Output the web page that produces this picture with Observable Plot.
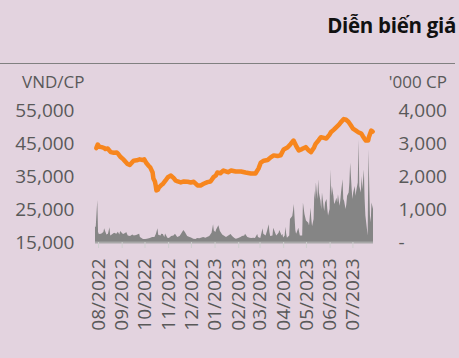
<!DOCTYPE html>
<html>
<head>
<meta charset="utf-8">
<script src="https://cdn.jsdelivr.net/npm/d3@7"></script>
<script src="https://cdn.jsdelivr.net/npm/@observablehq/plot@0.6"></script>
<style>
  html, body { margin: 0; padding: 0; background: #e3d3df; }
  body { width: 459px; height: 358px; overflow: hidden; font-family: "Open Sans", sans-serif; }
  #header { position: relative; width: 459px; height: 95px; }
  #title { position: absolute; right: 3px; top: 11px; font-family: "Open Sans", sans-serif; font-weight: 700; font-size: 20.5px; color: #111; white-space: nowrap; letter-spacing: -0.3px; }
  #rule { position: absolute; left: 0; top: 63px; width: 455px; height: 1px; background: #808080; }
  .unit { position: absolute; top: 70px; font-size: 17px; color: #595959; }
  #unitL { left: 22px; }
  #unitR { right: 12px; }
  #chart svg { display: block; }
</style>
</head>
<body>
<div id="header">
  <div id="title">Diễn biến giá</div>
  <div id="rule"></div>
  <div class="unit" id="unitL">VND/CP</div>
  <div class="unit" id="unitR">'000 CP</div>
</div>
<div id="chart"></div>
<script>
// Price (VND/CP)
const priceDates = ["2022-07-29","2022-07-31","2022-08-02","2022-08-05","2022-08-08","2022-08-10","2022-08-13","2022-08-17","2022-08-21","2022-08-25","2022-08-27","2022-08-30",
"2022-09-03","2022-09-06","2022-09-08","2022-09-11","2022-09-13","2022-09-16","2022-09-20","2022-09-24","2022-09-28","2022-09-30",
"2022-10-03","2022-10-06","2022-10-08","2022-10-11","2022-10-12","2022-10-14","2022-10-15","2022-10-16","2022-10-18","2022-10-19","2022-10-22","2022-10-25","2022-10-28","2022-10-31",
"2022-11-04","2022-11-08","2022-11-10","2022-11-13","2022-11-17","2022-11-21","2022-11-26","2022-11-30",
"2022-12-04","2022-12-09","2022-12-13","2022-12-17","2022-12-22","2022-12-26","2022-12-30",
"2023-01-02","2023-01-04","2023-01-08","2023-01-12","2023-01-18","2023-01-22","2023-01-28",
"2023-02-04","2023-02-10","2023-02-17","2023-02-23","2023-02-27",
"2023-03-02","2023-03-06","2023-03-11","2023-03-15","2023-03-19","2023-03-24","2023-03-28",
"2023-04-01","2023-04-06","2023-04-10","2023-04-14","2023-04-18","2023-04-21","2023-04-25","2023-04-30",
"2023-05-04","2023-05-07","2023-05-11","2023-05-13","2023-05-17","2023-05-20","2023-05-24","2023-05-27","2023-05-31",
"2023-06-02","2023-06-06","2023-06-09","2023-06-13","2023-06-15","2023-06-19","2023-06-22","2023-06-25","2023-06-28",
"2023-07-01","2023-07-05","2023-07-08","2023-07-12","2023-07-14","2023-07-16","2023-07-18","2023-07-21","2023-07-22","2023-07-25","2023-07-27"];
const priceValues = [43600,44700,44000,43900,43700,43300,43500,42400,42200,42300,41800,40900,
40100,39300,38800,38500,39000,39800,39900,40200,40000,40200,
39000,38200,37700,36200,34400,33500,32300,30800,31000,31600,32300,32900,33800,34800,
35300,34400,33800,33500,33200,33500,33400,33200,
33400,32300,32300,32800,33300,33500,34800,
35300,36200,36000,36800,36300,36800,36500,
36500,36200,35900,35900,37400,
39200,39800,40000,40800,41400,41200,41400,
43200,43800,44800,45900,44000,42900,43300,43900,
42900,42400,43800,44900,46000,46900,46700,46500,47600,
48400,49200,49900,50800,51400,52400,52200,51600,50600,
49500,48900,48400,48000,47200,46500,45900,45900,47000,48900,48600];

// Volume ('000 CP)
const volumeDates = ["2022-07-28","2022-07-29","2022-07-31","2022-08-01","2022-08-02","2022-08-05","2022-08-08","2022-08-09","2022-08-10","2022-08-12","2022-08-14","2022-08-16","2022-08-17","2022-08-19","2022-08-22","2022-08-25","2022-08-27","2022-08-29","2022-08-30",
"2022-09-02","2022-09-03","2022-09-06","2022-09-07","2022-09-09","2022-09-12","2022-09-15","2022-09-17","2022-09-20","2022-09-23","2022-09-24","2022-09-25","2022-09-27","2022-09-29",
"2022-10-02","2022-10-04","2022-10-08","2022-10-11","2022-10-14","2022-10-16","2022-10-18","2022-10-19","2022-10-22","2022-10-23","2022-10-25","2022-10-27","2022-10-28","2022-10-31",
"2022-11-02","2022-11-05","2022-11-08","2022-11-10","2022-11-13","2022-11-16","2022-11-18","2022-11-21","2022-11-23","2022-11-26","2022-11-29",
"2022-12-01","2022-12-04","2022-12-07","2022-12-09","2022-12-12","2022-12-14","2022-12-17","2022-12-20","2022-12-22","2022-12-25","2022-12-28","2022-12-30","2022-12-31",
"2023-01-02","2023-01-03","2023-01-06","2023-01-08","2023-01-11","2023-01-14","2023-01-16","2023-01-19","2023-01-22","2023-01-24","2023-01-27","2023-01-29",
"2023-02-01","2023-02-04","2023-02-06","2023-02-09","2023-02-10","2023-02-13","2023-02-16","2023-02-18","2023-02-21","2023-02-23","2023-02-26","2023-02-27",
"2023-03-02","2023-03-05","2023-03-06","2023-03-09","2023-03-11","2023-03-13","2023-03-14","2023-03-15","2023-03-18","2023-03-19","2023-03-22","2023-03-23","2023-03-26","2023-03-27","2023-03-30","2023-03-31",
"2023-04-01","2023-04-03","2023-04-04","2023-04-05","2023-04-06","2023-04-09","2023-04-10","2023-04-13","2023-04-14","2023-04-15","2023-04-17","2023-04-18","2023-04-19","2023-04-21","2023-04-22","2023-04-23","2023-04-26","2023-04-27","2023-04-29",
"2023-05-01","2023-05-04","2023-05-05","2023-05-07","2023-05-08","2023-05-09","2023-05-11","2023-05-12","2023-05-13","2023-05-14","2023-05-16","2023-05-17","2023-05-18","2023-05-20","2023-05-21","2023-05-22","2023-05-24","2023-05-25","2023-05-26","2023-05-28","2023-05-29","2023-05-30",
"2023-06-01","2023-06-02","2023-06-03","2023-06-04","2023-06-06","2023-06-07","2023-06-08","2023-06-10","2023-06-11","2023-06-12","2023-06-14","2023-06-15","2023-06-16","2023-06-18","2023-06-19","2023-06-20","2023-06-22","2023-06-23","2023-06-24","2023-06-26","2023-06-27","2023-06-28","2023-06-30",
"2023-07-01","2023-07-02","2023-07-04","2023-07-05","2023-07-06","2023-07-08","2023-07-09","2023-07-10","2023-07-12","2023-07-13","2023-07-14","2023-07-16","2023-07-17","2023-07-18","2023-07-20","2023-07-21","2023-07-22","2023-07-24","2023-07-25","2023-07-26","2023-07-27","2023-07-28"];
const volumeValues = [450,480,1270,300,240,250,300,420,350,230,250,450,200,230,280,250,310,230,330,
260,240,280,300,200,180,230,200,210,240,250,150,120,90,
90,100,120,150,150,250,420,220,200,250,240,150,260,130,
120,180,200,250,150,180,250,360,300,180,150,
140,100,90,120,110,130,150,130,150,180,280,540,350,
300,380,510,330,230,180,150,200,240,180,120,100,
120,150,180,200,250,150,130,120,130,120,240,150,
120,420,250,200,350,540,300,180,200,430,250,200,280,360,200,250,
140,200,460,250,130,200,700,790,950,1150,360,250,300,430,300,200,200,1200,850,
650,580,500,1040,700,480,700,1550,1300,1800,1300,1900,1500,1250,1000,1500,1100,940,1200,1300,1000,800,
1000,2200,1400,1700,1400,1150,1200,1340,1200,1450,1100,1250,1500,1900,1300,1250,1000,1150,1400,1500,1800,2400,1600,
1300,1500,1700,1400,1550,1800,3100,1700,1500,2000,1600,2200,1300,800,400,200,2800,800,600,1200,1100,1000];

const priceTicks = [15000, 25000, 35000, 45000, 55000];
const volumeTicks = [0, 1000, 2000, 3000, 4000];
const xDomain = ["2022-07-28", "2023-07-28"];

const parse = d3.utcParse("%Y-%m-%d");
const price = priceDates.map((d, i) => ({date: parse(d), value: priceValues[i]}));
const volume = volumeDates.map((d, i) => ({date: parse(d), value: volumeValues[i]}));

// volume axis (0..4000) shares the price axis (15000..55000)
const volToY = v => 15000 + v * 10;
const yToVol = y => (y - 15000) / 10;
const fmt = d3.format(",");

const chart = Plot.plot({
  width: 459,
  height: 263,
  marginTop: 15,
  marginBottom: 116,
  marginLeft: 95,
  marginRight: 86,
  style: {background: "transparent", fontFamily: "Open Sans, sans-serif", fontSize: "19px", color: "#595959"},
  x: {type: "utc", domain: xDomain.map(parse)},
  y: {domain: [15000, 55000]},
  marks: [
    Plot.areaY(volume, {x: "date", y1: 15000, y2: d => volToY(d.value), fill: "#858585", curve: "linear"}),
    Plot.ruleY([15000], {stroke: "#a8a8a8", strokeWidth: 2}),
    Plot.lineY(price, {x: "date", y: "value", stroke: "#f7861e", strokeWidth: 4.5, strokeLinejoin: "round", strokeLinecap: "round"}),
    Plot.axisX({ticks: d3.utcMonth.every(1), tickFormat: d3.utcFormat("%m/%Y"), tickRotate: -90, tickSize: 6, tickPadding: 10, stroke: "#cfcfcf", fill: "#595959", fontSize: 19, label: null}),
    Plot.axisY(priceTicks, {anchor: "left", tickSize: 0, tickPadding: 21, tickFormat: fmt, fill: "#595959", fontSize: 19, label: null}),
    Plot.axisY(volumeTicks.map(volToY), {anchor: "right", tickSize: 0, tickPadding: 25, tickFormat: d => yToVol(d) === 0 ? "-" : fmt(yToVol(d)), fill: "#595959", fontSize: 19, label: null})
  ]
});
document.getElementById("chart").appendChild(chart);
</script>
</body>
</html>
